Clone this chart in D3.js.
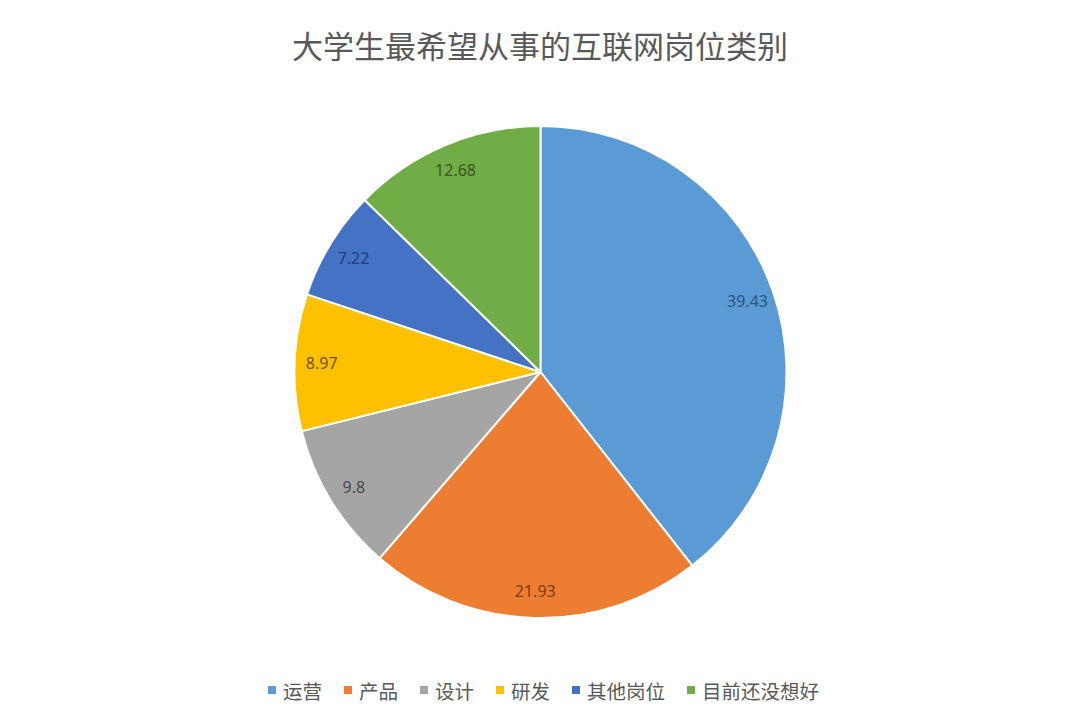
<!DOCTYPE html>
<html>
<head>
<meta charset="utf-8">
<script src="https://cdn.jsdelivr.net/npm/d3@7/dist/d3.min.js"></script>
<style>
  html, body { margin: 0; padding: 0; background: #fff; }
  svg { display: block; }
</style>
</head>
<body>
<svg id="chart" width="1080" height="720"></svg>
<script>
const title = "大学生最希望从事的互联网岗位类别";
const categories = ["运营", "产品", "设计", "研发", "其他岗位", "目前还没想好"];
const values = [39.43, 21.93, 9.8, 8.97, 7.22, 12.68];
const colors = ["#5B9BD5", "#ED7D31", "#A5A5A5", "#FFC000", "#4472C4", "#70AD47"];
const labelColors = ["#2F5577", "#7A3E14", "#4A4A4A", "#6B5200", "#233D73", "#36561F"];

const svg = d3.select("#chart");
const W = 1080, H = 720;
const cx = 540.5, cy = 372, R = 246, labelR = 219;

svg.append("text")
  .attr("x", W / 2).attr("y", 44)
  .attr("text-anchor", "middle")
  .attr("dominant-baseline", "central")
  .attr("font-family", "'Noto Sans CJK SC', sans-serif")
  .attr("font-size", 31)
  .attr("fill", "#595959")
  .text(title);

const data = categories.map((c, i) => ({ name: c, value: values[i], color: colors[i], lc: labelColors[i] }));
const pie = d3.pie().value(d => d.value).sort(null).startAngle(0).endAngle(2 * Math.PI);
const arcs = pie(data);
const arc = d3.arc().innerRadius(0).outerRadius(R);
const labelArc = d3.arc().innerRadius(labelR).outerRadius(labelR);

const g = svg.append("g").attr("transform", `translate(${cx},${cy})`);
g.selectAll("path.slice").data(arcs).enter().append("path")
  .attr("class", "slice")
  .attr("d", arc)
  .attr("fill", d => d.data.color)
  .attr("stroke", "#fff")
  .attr("stroke-width", 2)
  .attr("stroke-linejoin", "round");

g.selectAll("text.lbl").data(arcs).enter().append("text")
  .attr("class", "lbl")
  .attr("transform", d => `translate(${labelArc.centroid(d)})`)
  .attr("text-anchor", "middle")
  .attr("dominant-baseline", "central")
  .attr("font-family", "'Noto Sans', 'DejaVu Sans', sans-serif")
  .attr("font-size", 16)
  .attr("fill", d => d.data.lc)
  .text(d => d.data.value);

// Legend
const legendY = 690;
const fs = 19.5, markerSize = 8, markerGap = 7, itemGap = 22;
const lg = svg.append("g");
const items = lg.selectAll("g.item").data(data).enter().append("g").attr("class", "item");
items.append("rect")
  .attr("width", markerSize).attr("height", markerSize)
  .attr("y", legendY - markerSize / 2)
  .attr("fill", d => d.color);
items.append("text")
  .attr("y", legendY)
  .attr("dominant-baseline", "central")
  .attr("font-family", "'Noto Sans CJK SC', sans-serif")
  .attr("font-size", fs)
  .attr("fill", "#595959")
  .text(d => d.name);
let x = 0;
items.each(function () {
  const it = d3.select(this);
  const tw = it.select("text").node().getComputedTextLength();
  it.select("rect").attr("x", x);
  it.select("text").attr("x", x + markerSize + markerGap);
  x += markerSize + markerGap + tw + itemGap;
});
const total = x - itemGap;
lg.attr("transform", `translate(${543.5 - total / 2},0)`);
</script>
</body>
</html>
